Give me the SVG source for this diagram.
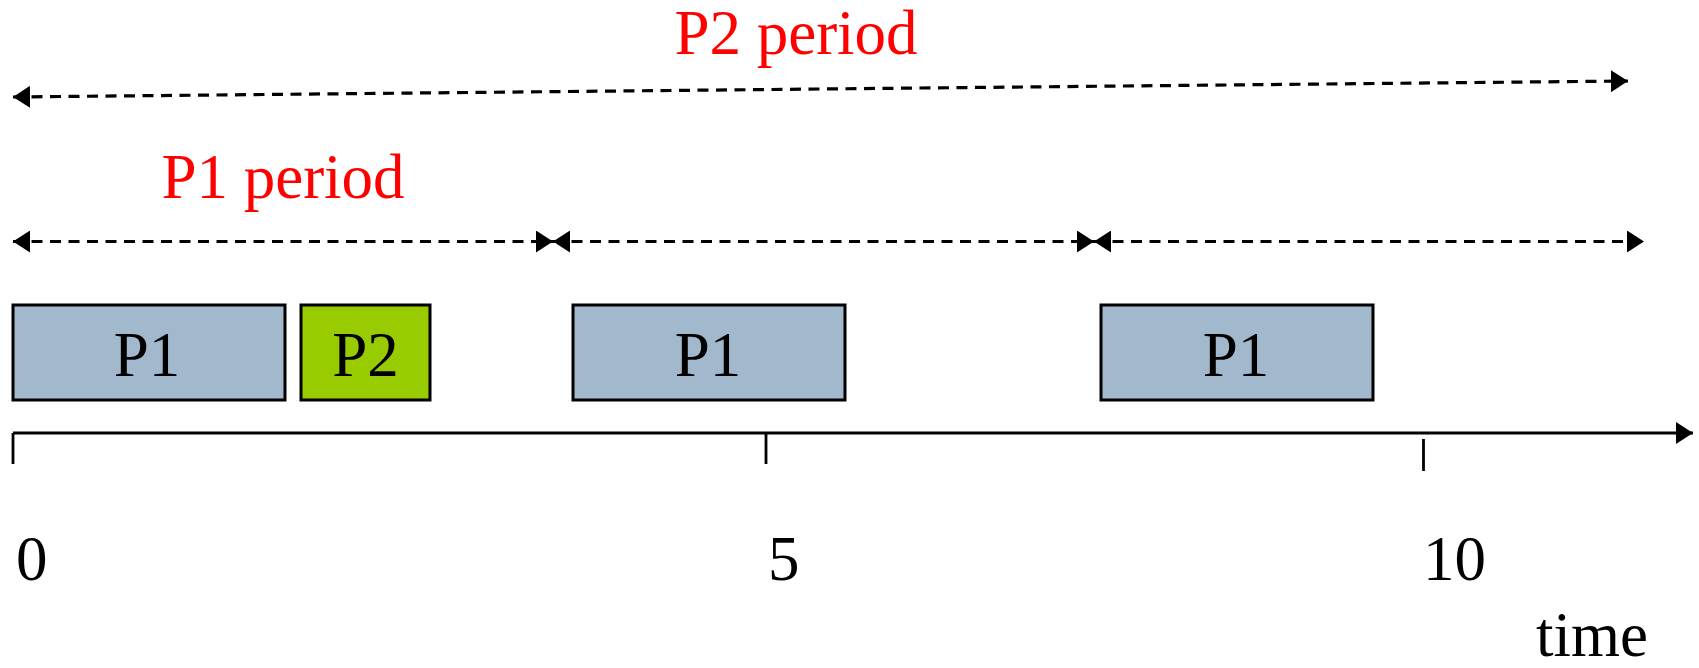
<svg xmlns="http://www.w3.org/2000/svg" width="1699" height="668" viewBox="0 0 1699 668">
<style>
.lbl{font-family:"Liberation Serif","Times New Roman",serif;font-size:63px;fill:#000;}
.red{fill:#ff0000;}
.box{stroke:#000;stroke-width:3;}
.p1{fill:#a2b8cd;}
.p2{fill:#99cc00;}
.dash{stroke:#000;stroke-width:3.2;stroke-dasharray:11 7.5;fill:none;}
.solid{stroke:#000;stroke-width:2.8;fill:none;}
</style>
<defs>
<marker id="ah" markerUnits="userSpaceOnUse" markerWidth="18" markerHeight="22" refX="17" refY="11" orient="auto-start-reverse">
<path d="M0,0 L17,11 L0,22 Z" fill="#000"/>
</marker>
<marker id="axh" markerUnits="userSpaceOnUse" markerWidth="18" markerHeight="22" refX="17" refY="11" orient="auto">
<path d="M0,0 L17,11 L0,22 Z" fill="#000"/>
</marker>
</defs>
<g id="connectors">
<line class="dash" x1="13" y1="97" x2="1628" y2="81" marker-start="url(#ah)" marker-end="url(#ah)"/>
<line class="dash" x1="13" y1="241.5" x2="553" y2="241.5" marker-start="url(#ah)" marker-end="url(#ah)"/>
<line class="dash" x1="553" y1="241.5" x2="1094" y2="241.5" marker-start="url(#ah)" marker-end="url(#ah)"/>
<line class="dash" x1="1094" y1="241.5" x2="1644" y2="241.5" marker-start="url(#ah)" marker-end="url(#ah)"/>
</g>
<g id="labels">
<text class="lbl red" x="796" y="54" text-anchor="middle">P2 period</text>
<text class="lbl red" x="283" y="198" text-anchor="middle">P1 period</text>
</g>
<g id="job1">
<rect class="box p1" x="13" y="305" width="272" height="95"/>
<text class="lbl" x="147" y="376" text-anchor="middle">P1</text>
</g>
<g id="job2">
<rect class="box p2" x="301" y="305" width="129" height="95"/>
<text class="lbl" x="365.5" y="376" text-anchor="middle">P2</text>
</g>
<g id="job3">
<rect class="box p1" x="573" y="305" width="272" height="95"/>
<text class="lbl" x="708" y="376" text-anchor="middle">P1</text>
</g>
<g id="job4">
<rect class="box p1" x="1101" y="305" width="272" height="95"/>
<text class="lbl" x="1236" y="376" text-anchor="middle">P1</text>
</g>
<g id="axis">
<line class="solid" x1="13" y1="433" x2="1693" y2="433" marker-end="url(#axh)"/>
<line class="solid" x1="13" y1="433" x2="13" y2="464"/>
<line class="solid" x1="766" y1="433" x2="766" y2="464"/>
<line class="solid" x1="1423.5" y1="439" x2="1423.5" y2="471"/>
<text class="lbl" x="16" y="580">0</text>
<text class="lbl" x="768" y="580">5</text>
<text class="lbl" x="1423" y="580">10</text>
<text class="lbl" x="1536" y="656">time</text>
</g>
</svg>
